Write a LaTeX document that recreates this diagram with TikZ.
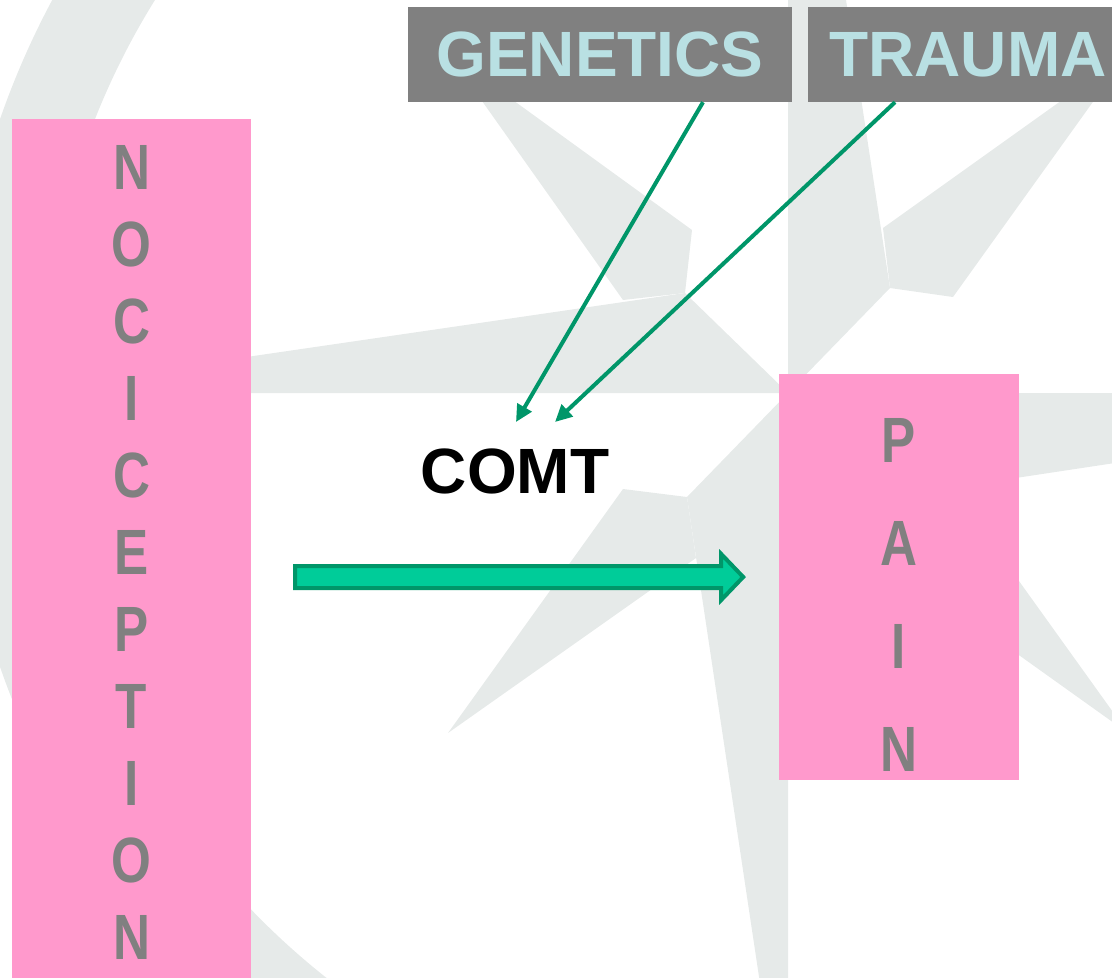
\documentclass[tikz,border=0pt]{standalone}
\usepackage{fontspec}
\setmainfont{Liberation Sans}
\usetikzlibrary{arrows.meta,calc}
\definecolor{wmark}{RGB}{230,234,233}
\definecolor{boxgray}{RGB}{128,128,128}
\definecolor{labelcyan}{RGB}{185,224,227}
\definecolor{nocipink}{RGB}{255,153,204}
\definecolor{arrowgreen}{RGB}{0,150,105}
\definecolor{flowfill}{RGB}{0,204,153}
\newcommand{\bigsans}{\fontsize{64}{77}\selectfont\bfseries}

\tikzset{
	headbox/.style={fill=boxgray, text=labelcyan, minimum height=95pt, inner sep=0pt, font=\bigsans},
	pinkbox/.style={fill=nocipink, inner sep=0pt},
	letter/.style={text=boxgray, inner sep=0pt, xscale=0.8, font=\bigsans},
	thinarrow/.style={arrowgreen, line width=4pt, -{Triangle[length=17pt,width=16pt]}},
}

\begin{document}
\begin{tikzpicture}[x=1pt,y=-1pt]
	\useasboundingbox (0,0) rectangle (1112,978);
	\clip (0,0) rectangle (1112,978);
	% compass watermark
	\fill [wmark, even odd rule] (788,393) circle (834) (788,393) circle (745);
	\fill [wmark] (0,393) -- (685,293) -- (788,393) -- cycle;
	\fill [wmark] (788,393) -- (788,-380) -- (890,288) -- cycle;
	\fill [wmark] (788,393) -- (1578,393) -- (890,497) -- cycle;
	\fill [wmark] (788,393) -- (788,1170) -- (687,497) -- cycle;
	\fill [wmark] (448,53) -- (692,230) -- (685,293) -- (623,300) -- cycle;
	\fill [wmark] (1128,53) -- (883,228) -- (890,288) -- (953,297) -- cycle;
	\fill [wmark] (1128,733) -- (953,489) -- (890,497) -- (883,558) -- cycle;
	\fill [wmark] (448,733) -- (623,489) -- (687,497) -- (696,558) -- cycle;
	% boxes
	\node [headbox, minimum width=384pt] (genetics) at (600,54.5) {GENETICS};
	\node [headbox, minimum width=320pt] (trauma) at (968,54.5) {TRAUMA};
	\node [pinkbox, minimum width=239pt, minimum height=881pt] (noc) at (131.5,559.5) {};
	\node [pinkbox, minimum width=240pt, minimum height=406pt] (pain) at (899,577) {};
	\foreach \ch [count=\i] in {N,O,C,I,C,E,P,T,I,O,N}
		\node [letter] (noc-\i) at (131.5,{90+77*\i}) {\ch};
	\foreach \ch [count=\i] in {P,A,I,N}
		\node [letter] (pain-\i) at (899,{336.7+103.3*\i}) {\ch};
	\node [font=\bigsans, inner sep=0pt] (comt) at (515,471) {COMT};
	% arrows
	\coordinate (gen-tip) at (516,422);
	\coordinate (trauma-tip) at (555,422);
	\draw [thinarrow] ([xshift=103pt]genetics.south) -- (gen-tip);
	\draw [thinarrow] ([xshift=-73pt]trauma.south) -- (trauma-tip);
	\draw [arrowgreen, fill=flowfill, line width=4pt, miter limit=10] ($(noc.east |- pain.west)+(44,-11)$) -- ++(426,0) -- ++(0,-12) -- ++(22,23) -- ++(-22,23) -- ++(0,-12) -- ++(-426,0) -- cycle;
\end{tikzpicture}
\end{document}
